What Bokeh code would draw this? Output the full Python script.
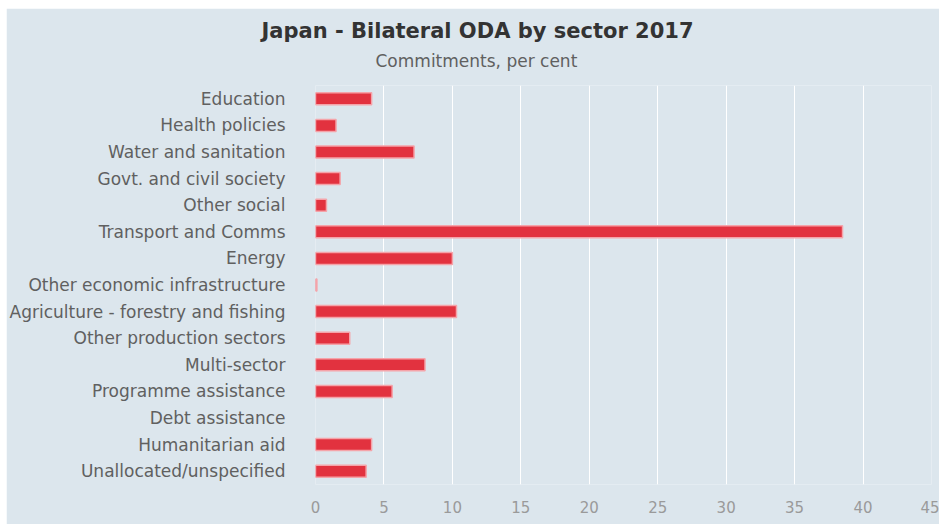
from bokeh.plotting import figure
from bokeh.models import Title, FactorRange, Range1d, ColumnDataSource, FixedTicker
from bokeh.embed import file_html
from bokeh.resources import INLINE

# ---- data ----
sectors = [
    "Education",
    "Health policies",
    "Water and sanitation",
    "Govt. and civil society",
    "Other social",
    "Transport and Comms",
    "Energy",
    "Other economic infrastructure",
    "Agriculture - forestry and fishing",
    "Other production sectors",
    "Multi-sector",
    "Programme assistance",
    "Debt assistance",
    "Humanitarian aid",
    "Unallocated/unspecified",
]
values = [4.1, 1.5, 7.2, 1.8, 0.8, 38.5, 10.0, 0.1, 10.3, 2.5, 8.0, 5.6, 0.0, 4.1, 3.7]
x_ticks = [0, 5, 10, 15, 20, 25, 30, 35, 40, 45]
title_text = "Japan - Bilateral ODA by sector 2017"
subtitle_text = "Commitments, per cent"

BG = "#dce6ed"
FONT = "DejaVu Sans"
BAR = "#e2323f"
EDGE = "#f5a3a9"

line_cols = [EDGE if v > 0 else None for v in values]
src = ColumnDataSource(dict(sector=sectors, value=values, lc=line_cols))

p = figure(
    width=933, height=516,
    y_range=FactorRange(factors=list(reversed(sectors))),
    x_range=Range1d(0, 45),
    output_backend="svg", toolbar_location=None,
    min_border_left=308, min_border_right=8,
    min_border_top=77, min_border_bottom=40,
    background_fill_color=BG, border_fill_color=BG,
    outline_line_color=None,
)
p.margin = (8, 0, 0, 6)

p.hbar(y="sector", left=0, right="value", height=0.45, source=src,
       fill_color=BAR, line_color="lc", line_width=1.5)

# x axis
xa = p.xaxis[0]
xa.ticker = FixedTicker(ticks=x_ticks)
xa.axis_line_color = None
xa.major_tick_line_color = None
xa.minor_tick_line_color = None
xa.major_label_text_font = FONT
xa.major_label_text_font_size = "15px"
xa.major_label_text_color = "#9a9a9a"
xa.major_label_standoff = 10

# y axis
ya = p.yaxis[0]
ya.axis_line_color = None
ya.major_tick_line_color = None
ya.minor_tick_line_color = None
ya.major_label_text_font = FONT
ya.major_label_text_font_size = "17px"
ya.major_label_text_color = "#606060"
ya.major_label_standoff = 24

p.xgrid.grid_line_color = "white"
p.xgrid.grid_line_width = 1
p.ygrid.grid_line_color = None

# spacer nearest to the frame, then subtitle, then the main title
p.add_layout(Title(text=" ", align="left", standoff=12, text_font_size="1px",
                   text_color=BG), "above")
p.add_layout(Title(text=subtitle_text, align="left", offset=60, standoff=0,
                   text_font=FONT, text_font_size="17px", text_font_style="normal",
                   text_color="#606060"), "above")
p.add_layout(Title(text=title_text, align="left", offset=-54, standoff=12,
                   text_font=FONT, text_font_size="21px", text_font_style="bold",
                   text_color="#333333"), "above")

open("out.html", "w").write(file_html(p, INLINE))
